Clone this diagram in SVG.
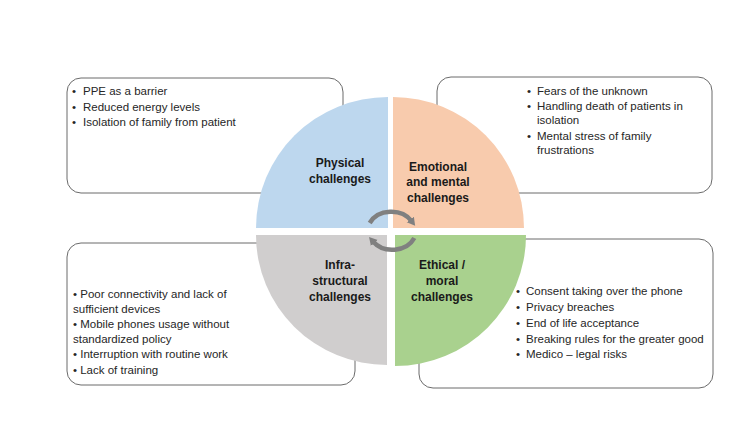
<svg xmlns="http://www.w3.org/2000/svg" width="750" height="422" viewBox="0 0 750 422">
<style>
.box{fill:#fff;stroke:#6b6b6b;stroke-width:1}
.t{font-family:"Liberation Sans",Arial,sans-serif;font-size:11.5px;fill:#262626}
.lab{font-family:"Liberation Sans",Arial,sans-serif;font-size:12px;font-weight:bold;fill:#1a1a1a;text-anchor:middle}
.arc{fill:none;stroke:#808080;stroke-width:4.5}
</style>
<defs>
<marker id="ah" markerUnits="userSpaceOnUse" markerWidth="12" markerHeight="12" refX="2" refY="6" orient="auto">
<polygon points="0,1.5 8,6 0,10.5" fill="#808080"/>
</marker>
</defs>
<rect width="750" height="422" fill="#fff"/>
<g id="physical-box">
<rect class="box" x="67" y="78" width="276" height="115" rx="14"/>
<text class="t" x="72" y="95">•</text><text class="t" x="83" y="95">PPE as a barrier</text>
<text class="t" x="72" y="111">•</text><text class="t" x="83" y="111">Reduced energy levels</text>
<text class="t" x="72" y="126">•</text><text class="t" x="83" y="126">Isolation of family from patient</text>
</g>
<g id="emotional-box">
<rect class="box" x="437" y="77" width="275" height="116" rx="14"/>
<text class="t" x="527" y="95">•</text><text class="t" x="537" y="95">Fears of the unknown</text>
<text class="t" x="527" y="110">•</text><text class="t" x="537" y="110">Handling death of patients in</text>
<text class="t" x="537" y="124">isolation</text>
<text class="t" x="527" y="140">•</text><text class="t" x="537" y="140">Mental stress of family</text>
<text class="t" x="537" y="154">frustrations</text>
</g>
<g id="infra-box">
<rect class="box" x="67" y="243" width="288" height="142" rx="14"/>
<text class="t" x="73" y="298">• Poor connectivity and lack of</text>
<text class="t" x="73" y="313">sufficient devices</text>
<text class="t" x="73" y="328">• Mobile phones usage without</text>
<text class="t" x="73" y="343">standardized policy</text>
<text class="t" x="73" y="358">• Interruption with routine work</text>
<text class="t" x="73" y="374">• Lack of training</text>
</g>
<g id="ethical-box">
<rect class="box" x="419" y="239" width="294" height="149" rx="14"/>
<text class="t" x="516" y="295">•</text><text class="t" x="526" y="295">Consent taking over the phone</text>
<text class="t" x="516" y="311">•</text><text class="t" x="526" y="311">Privacy breaches</text>
<text class="t" x="516" y="327">•</text><text class="t" x="526" y="327">End of life acceptance</text>
<text class="t" x="516" y="343">•</text><text class="t" x="526" y="343">Breaking rules for the greater good</text>
<text class="t" x="516" y="358">•</text><text class="t" x="526" y="358">Medico – legal risks</text>
</g>
<g id="physical">
<path d="M388,228 L256,228 A132,131 0 0 1 388,97 Z" fill="#BDD7EE"/>
<text class="lab" x="340" y="167">Physical</text>
<text class="lab" x="340" y="183">challenges</text>
</g>
<g id="emotional">
<path d="M393,228 L393,97 A131,131 0 0 1 524,228 Z" fill="#F8CBAD"/>
<text class="lab" x="438" y="171">Emotional</text>
<text class="lab" x="438" y="186">and mental</text>
<text class="lab" x="438" y="202">challenges</text>
</g>
<g id="infra">
<path d="M387,235 L387,365 A131,130 0 0 1 256,235 Z" fill="#D0CECE"/>
<text class="lab" x="340" y="269">Infra-</text>
<text class="lab" x="340" y="285">structural</text>
<text class="lab" x="340" y="301">challenges</text>
</g>
<g id="ethical">
<path d="M395,235 L526,235 A131,131 0 0 1 395,366 Z" fill="#A9D18E"/>
<text class="lab" x="442" y="269">Ethical /</text>
<text class="lab" x="442" y="285">moral</text>
<text class="lab" x="442" y="301">challenges</text>
</g>
<g id="connectors">
<path class="arc" d="M369.7,223 A24,20 0 0 1 411.5,221" marker-end="url(#ah)"/>
<path class="arc" d="M414.3,238 A24,20 0 0 1 373,241.5" marker-end="url(#ah)"/>
</g>
</svg>
